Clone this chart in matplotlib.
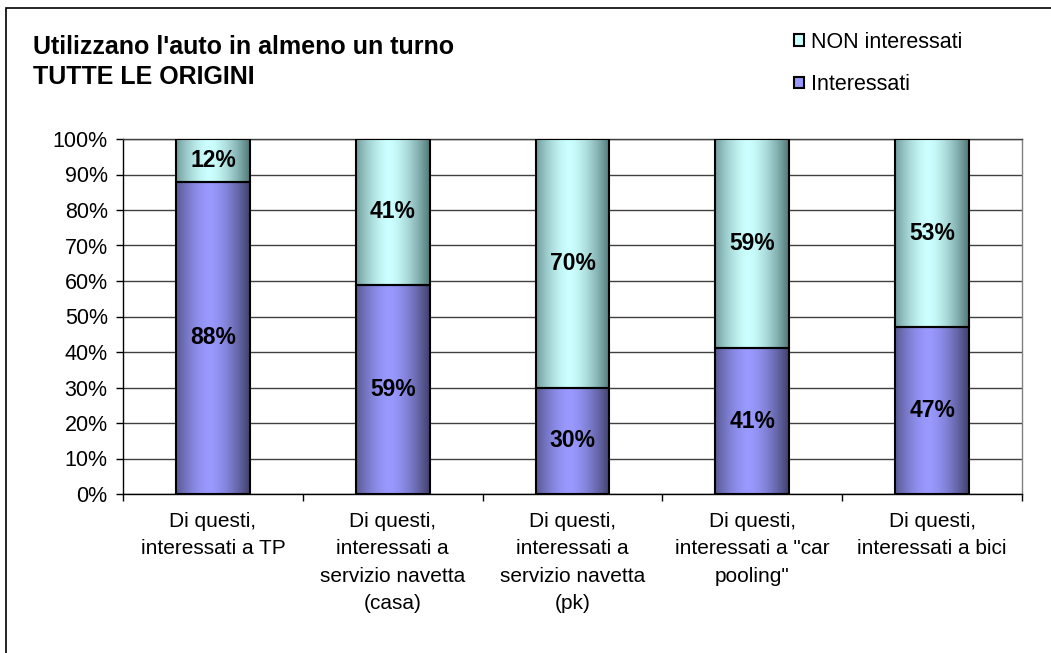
import matplotlib.pyplot as plt
import numpy as np
from matplotlib.patches import Patch, Rectangle
from matplotlib.ticker import FixedLocator

plt.rcParams['font.family'] = ['Liberation Sans', 'DejaVu Sans']

categorie = ['Di questi,\ninteressati a TP',
             'Di questi,\ninteressati a\nservizio navetta\n(casa)',
             'Di questi,\ninteressati a\nservizio navetta\n(pk)',
             'Di questi,\ninteressati a "car\npooling"',
             'Di questi,\ninteressati a bici']
interessati = [88, 59, 30, 41, 47]
non_interessati = [12, 41, 70, 59, 53]

viola = np.array([0x99, 0x99, 0xff]) / 255
viola_bordo = np.array([0x40, 0x40, 0x6a]) / 255
ciano = np.array([0xcc, 0xff, 0xff]) / 255
ciano_bordo = np.array([0x50, 0x78, 0x78]) / 255


def gradiente(c_centro, c_bordo, n=200):
    u = np.linspace(0, 1, n)
    w = 1 - np.clip(np.abs(u - 0.45) / 0.55, 0, 1) ** 1.6
    img = c_bordo[None, :] + w[:, None] * (c_centro - c_bordo)[None, :]
    return img[None, :, :]


fig = plt.figure(figsize=(10.51, 6.53), dpi=100)
ax = fig.add_axes([123 / 1051, 159 / 653, 899 / 1051, 355 / 653])

x = np.arange(len(categorie))
b1 = ax.bar(x, interessati, width=0.41, facecolor='none', edgecolor='black', linewidth=1.5, zorder=4)
b2 = ax.bar(x, non_interessati, width=0.41, bottom=interessati, facecolor='none',
            edgecolor='black', linewidth=1.5, zorder=4)

for bars, cc, cb in [(b1, viola, viola_bordo), (b2, ciano, ciano_bordo)]:
    img = gradiente(cc, cb)
    for r in bars:
        ax.imshow(img, extent=(r.get_x(), r.get_x() + r.get_width(), r.get_y(), r.get_y() + r.get_height()),
                  aspect='auto', zorder=3, interpolation='bilinear')

for i in range(len(categorie)):
    ax.text(x[i], interessati[i] / 2, f'{interessati[i]}%', ha='center', va='center',
            fontsize=16.5, fontweight='bold', zorder=5)
    ax.text(x[i], interessati[i] + non_interessati[i] / 2, f'{non_interessati[i]}%', ha='center',
            va='center', fontsize=16.5, fontweight='bold', zorder=5)

ax.set_xlim(-0.5, len(categorie) - 0.5)
ax.set_ylim(0, 100)
ax.set_yticks(np.arange(0, 101, 10))
ax.set_yticklabels([f'{v}%' for v in range(0, 101, 10)], fontsize=15.5)
ax.yaxis.grid(True, color='#404040', linewidth=1)
ax.set_axisbelow(True)
ax.tick_params(axis='y', direction='out', length=5, width=1, pad=6)

ax.set_xticks(x)
ax.set_xticklabels(categorie, fontsize=15, linespacing=1.55, va='top')
ax.tick_params(axis='x', which='major', length=0, pad=13)
ax.xaxis.set_minor_locator(FixedLocator(np.arange(-0.5, len(categorie), 1)))
ax.tick_params(axis='x', which='minor', direction='out', length=5, width=1)

ax.spines['left'].set_color('black')
ax.spines['bottom'].set_color('black')
ax.spines['top'].set_color('#404040')
ax.spines['right'].set_color('#808080')
for s in ax.spines.values():
    s.set_linewidth(1)

fig.text(33 / 1051, 1 - 62 / 653, "Utilizzano l'auto in almeno un turno\nTUTTE LE ORIGINI",
         fontsize=18, fontweight='bold', va='center', ha='left', linespacing=1.3)

handles = [Patch(facecolor=ciano, edgecolor='black', linewidth=1.5, label='NON interessati'),
           Patch(facecolor=viola, edgecolor='black', linewidth=1.5, label='Interessati')]
fig.legend(handles=handles, loc='upper left', bbox_to_anchor=(785 / 1051, 1 - 23 / 653),
           frameon=False, fontsize=15.5, handlelength=0.47, handleheight=0.47, handletextpad=0.33,
           labelspacing=1.0, borderaxespad=0)

fig.patches.append(Rectangle((6 / 1051, -0.1), 1.2, 0.1 + (653 - 8) / 653, transform=fig.transFigure,
                             fill=False, edgecolor='black', linewidth=1.2, figure=fig))

fig.savefig('out.png', dpi=100)
